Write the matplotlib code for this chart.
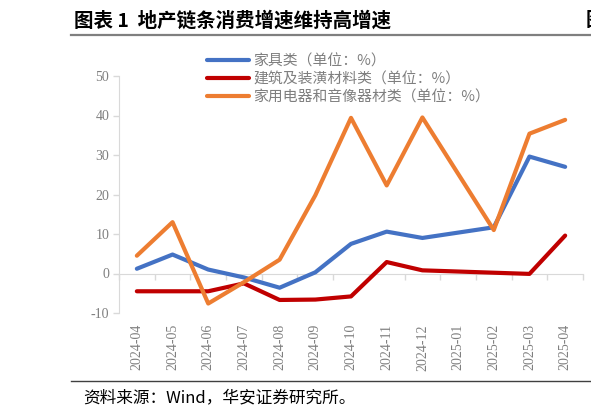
import numpy as np
import matplotlib
matplotlib.use('Agg')
import matplotlib.pyplot as plt

plt.rcParams['font.family'] = ['Liberation Serif', 'Noto Sans CJK SC', 'DejaVu Sans']
plt.rcParams['axes.unicode_minus'] = False
cjk = ['Noto Sans CJK SC', 'DejaVu Sans']

months = ['2024-04', '2024-05', '2024-06', '2024-07', '2024-08', '2024-09', '2024-10',
          '2024-11', '2024-12', '2025-01', '2025-02', '2025-03', '2025-04']
furniture = [1.2, 4.8, 1.0, -1.0, -3.6, 0.3, 7.5, 10.6, 9.0, np.nan, 11.7, 29.6, 27.0]
building = [-4.5, -4.5, -4.5, -2.5, -6.7, -6.6, -5.8, 2.9, 0.8, np.nan, 0.2, -0.1, 9.6]
appliance = [4.5, 13.0, -7.6, -2.2, 3.5, 19.8, 39.4, 22.3, 39.5, np.nan, 11.0, 35.4, 38.9]
names = ['家具类（单位：%）', '建筑及装潢材料类（单位：%）', '家用电器和音像器材类（单位：%）']
colors = ['#4472C4', '#C00000', '#ED7D31']

fig = plt.figure(figsize=(5.91, 4.16), dpi=100)
ax = fig.add_axes([119 / 591, 1 - 313 / 416, (583 - 119) / 591, 237 / 416])

x = np.arange(len(months))
for vals, name, c in zip([furniture, building, appliance], names, colors):
    v = np.array(vals, dtype=float)
    m = ~np.isnan(v)
    ax.plot(x[m], v[m], color=c, lw=3.0, label=name,
            solid_capstyle='round', solid_joinstyle='round')

ax.set_xlim(-0.5, len(months) - 0.5)
ax.set_ylim(-10, 50)
ax.set_yticks(range(-10, 51, 10))
ax.tick_params(axis='y', colors='#D9D9D9', length=4, width=1, labelsize=10,
               labelcolor='#7F7F7F', pad=3)
for s in ['top', 'right', 'bottom']:
    ax.spines[s].set_visible(False)
ax.spines['left'].set_color('#D9D9D9')

ax.set_xticks(x)
ax.set_xticklabels(months, rotation=90, fontsize=10, color='#7F7F7F')
ax.tick_params(axis='x', length=0, pad=8)

# category axis drawn at zero with boundary ticks
sec = ax.secondary_xaxis(1 / 6)
sec.set_xticks(np.arange(len(months) + 1) - 0.5)
sec.set_xticklabels([])
sec.tick_params(length=4, width=1, color='#D9D9D9', direction='out')
sec.spines['bottom'].set_color('#D9D9D9')

leg = ax.legend(loc='upper left', bbox_to_anchor=(194 / 591, 1 - 41 / 416),
                bbox_transform=fig.transFigure, frameon=False, handlelength=2.8,
                handletextpad=0.3, labelspacing=0.25, prop={'family': cjk, 'size': 10.7})
for t in leg.get_texts():
    t.set_color('#7F7F7F')

fig.text(74 / 591, 1 - 21 / 416, '图表 1  地产链条消费增速维持高增速', family=cjk,
         fontsize=14, fontweight='bold', va='center', ha='left')
fig.text(586 / 591, 1 - 21 / 416, '图', family=cjk, fontsize=14,
         fontweight='bold', va='center', ha='left')
fig.add_artist(plt.Line2D([71 / 591, 1], [1 - 35 / 416] * 2, color='#7F7F7F', lw=1.6))
fig.add_artist(plt.Line2D([71 / 591, 1], [1 - 381 / 416] * 2, color='#404040', lw=1.0))
fig.text(83 / 591, 1 - 398 / 416, '资料来源：Wind，华安证券研究所。', family=cjk,
         fontsize=12, va='center', ha='left')

fig.savefig('out.png', dpi=100)
